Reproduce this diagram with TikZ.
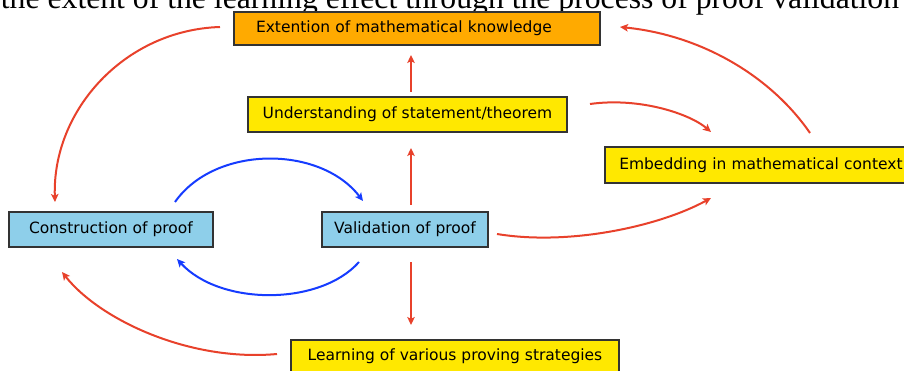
\documentclass[tikz,border=0pt]{standalone}
\usepackage{fontspec}
\setmainfont{DejaVu Sans}
\newfontfamily\titlefont{Liberation Serif}
\usetikzlibrary{arrows.meta}
\definecolor{boxorange}{HTML}{FFAA00}
\definecolor{boxyellow}{HTML}{FFE800}
\definecolor{boxblue}{HTML}{8ECFEA}
\definecolor{arrred}{HTML}{E8412B}
\definecolor{arrblue}{HTML}{163CFF}
\definecolor{bordergray}{HTML}{333333}
\begin{document}
\begin{tikzpicture}[x=1pt,y=-1pt,
  box/.style={draw=bordergray, line width=1.5pt, inner sep=0pt, font=\fontsize{15.5}{18}\selectfont},
  redarrow/.style={draw=arrred, line width=2pt, -{Stealth[length=8pt,width=7.5pt,inset=1.8pt]}},
  bluearrow/.style={draw=arrblue, line width=2pt, -{Stealth[length=8pt,width=7.5pt,inset=1.8pt]}}]
\clip (0,0) rectangle (904,371);
\fill[white] (0,0) rectangle (904,371);
% title
\node[anchor=base, inner sep=0pt, font=\titlefont\fontsize{31.7}{36}\selectfont] (title) at (450,9) {the extent of the learning effect through the process of proof validation};
% boxes
\node[box, fill=boxorange, minimum width=366pt, minimum height=33pt, text width=322pt, inner xsep=22pt, align=left] (ext) at (417,28.5) {Extention of mathematical knowledge};
\node[box, fill=boxyellow, minimum width=319pt, minimum height=35pt] (und) at (407.5,114.5) {Understanding of statement/theorem};
\node[box, fill=boxyellow, minimum height=36pt, text width=310pt, inner xsep=14.5pt, align=left, anchor=west] (emb) at (604,165) {Embedding in mathematical context};
\node[box, fill=boxblue, minimum width=204pt, minimum height=35pt] (con) at (111,229.5) {Construction of proof};
\node[box, fill=boxblue, minimum width=166pt, minimum height=35pt] (val) at (405,229.5) {Validation of proof};
\node[box, fill=boxyellow, minimum width=328pt, minimum height=33pt] (lea) at (455,356.5) {Learning of various proving strategies};
% connector end points
\coordinate (a1s) at (220,27);   \coordinate (a1e) at (55,202);
\coordinate (a2s) at (810,133);  \coordinate (a2e) at (620,27);
\coordinate (a3s) at (411,92);   \coordinate (a3e) at (411,55);
\coordinate (a4s) at (411,205);  \coordinate (a4e) at (411,148);
\coordinate (a5s) at (411,262);  \coordinate (a5e) at (411,325);
\coordinate (a6s) at (590,104);  \coordinate (a6e) at (711,132);
\coordinate (a7s) at (497,234);  \coordinate (a7e) at (711,198);
\coordinate (a8s) at (277,354);  \coordinate (a8e) at (62,272);
\coordinate (b1s) at (175,202);  \coordinate (b1e) at (363,201);
\coordinate (b2s) at (359,262);  \coordinate (b2e) at (177,259);
% red connectors
\draw[redarrow] (a1s) .. controls (125,30) and (52,110) .. (a1e);
\draw[redarrow] (a2s) .. controls (770,75) and (700,35) .. (a2e);
\draw[redarrow] (a3s) -- (a3e);
\draw[redarrow] (a4s) -- (a4e);
\draw[redarrow] (a5s) -- (a5e);
\draw[redarrow] (a6s) .. controls (640,97) and (690,114) .. (a6e);
\draw[redarrow] (a7s) .. controls (570,246) and (660,226) .. (a7e);
\draw[redarrow] (a8s) .. controls (190,362) and (100,320) .. (a8e);
% blue connectors
\draw[bluearrow] (b1s) .. controls (215,145) and (320,145) .. (b1e);
\draw[bluearrow] (b2s) .. controls (320,306) and (220,306) .. (b2e);
\end{tikzpicture}
\end{document}
